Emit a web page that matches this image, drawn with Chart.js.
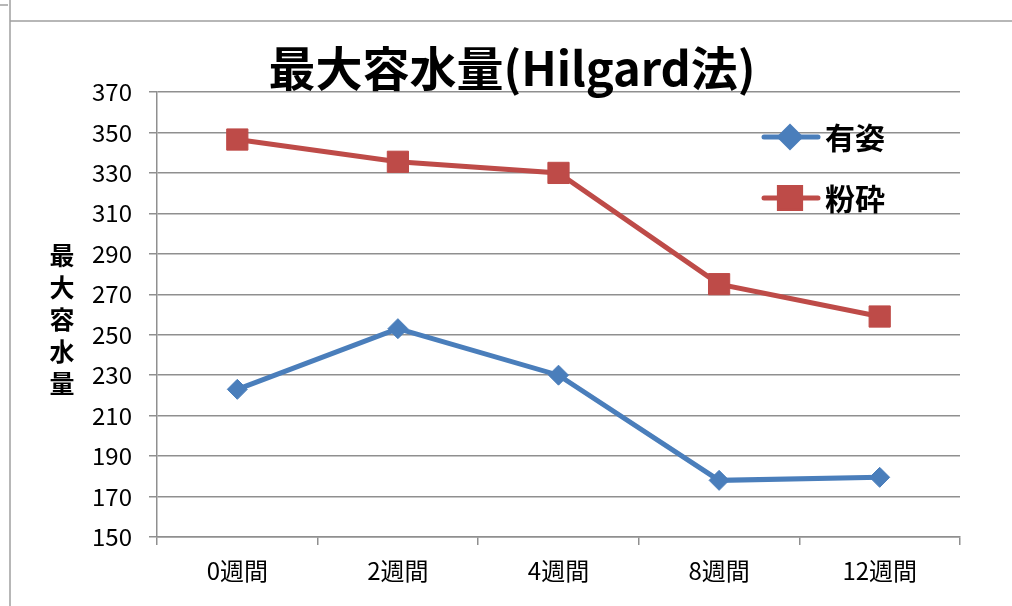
<!DOCTYPE html>
<html>
<head>
<meta charset="utf-8">
<script src="https://cdn.jsdelivr.net/npm/chart.js@4/dist/chart.umd.min.js"></script>
<style>
  html, body { margin: 0; padding: 0; background: #ffffff; }
  #wrap { width: 1012px; height: 606px; position: relative; }
</style>
</head>
<body>
<div id="wrap"><canvas id="c" width="1012" height="606"></canvas></div>
<script>
const chartTitle = '最大容水量(Hilgard法)';
const yAxisTitle = '最大容水量';
const categories = ['0週間', '2週間', '4週間', '8週間', '12週間'];
const seriesNames = ['有姿', '粉砕'];
const arisugata = [223, 253, 230, 178, 179.5];
const funsai = [346.5, 335.5, 330, 275, 259];
const yMin = 150, yMax = 370, yStep = 20;

const BLUE = '#4A7EBB';
const RED = '#BE4B48';
const GRID = '#8f8f8f';
const FONT = '"Noto Sans CJK JP", "Noto Sans", sans-serif';

const decorPlugin = {
  id: 'decor',
  beforeDraw(chart) {
    const ctx = chart.ctx;
    ctx.save();
    ctx.strokeStyle = '#a0a0a0';
    ctx.lineWidth = 1.5;
    ctx.beginPath();
    ctx.moveTo(10, 0); ctx.lineTo(10, 606);
    ctx.moveTo(10, 21); ctx.lineTo(1012, 21);
    ctx.moveTo(0, 5); ctx.lineTo(8, 5);
    ctx.stroke();
    ctx.restore();
  },
  afterDraw(chart) {
    const ctx = chart.ctx;
    ctx.save();
    // title
    ctx.fillStyle = '#000';
    ctx.font = 'bold 47px ' + FONT;
    ctx.textAlign = 'center';
    ctx.textBaseline = 'middle';
    ctx.fillText(chartTitle, 512, 68);
    // y axis title, stacked characters
    ctx.font = 'bold 25px ' + FONT;
    const chars = Array.from(yAxisTitle);
    chars.forEach((ch, i) => ctx.fillText(ch, 62, 255 + i * 32));
    // legend
    const items = chart.data.datasets.map((ds, i) => ({ ds }));
    const ys = [137, 198];
    items.forEach((it, i) => {
      const y = ys[i];
      ctx.strokeStyle = it.ds.borderColor;
      ctx.lineWidth = it.ds.borderWidth;
      ctx.lineCap = 'round';
      ctx.beginPath();
      ctx.moveTo(764, y); ctx.lineTo(818, y);
      ctx.stroke();
      Chart.helpers.drawPoint(ctx, {
        pointStyle: it.ds.pointStyle,
        radius: it.ds.pointRadius,
        borderWidth: 1,
        rotation: 0
      }, 790, y);
      ctx.fillStyle = it.ds.pointBackgroundColor;
      ctx.fill();
      ctx.fillStyle = '#000';
      ctx.font = 'bold 30px ' + FONT;
      ctx.textAlign = 'left';
      ctx.textBaseline = 'middle';
      ctx.fillText(it.ds.label, 825, y + 1);
    });
    ctx.restore();
  }
};

new Chart(document.getElementById('c'), {
  type: 'line',
  data: {
    labels: categories,
    datasets: [
      {
        label: seriesNames[0],
        data: arisugata,
        borderColor: BLUE,
        backgroundColor: BLUE,
        pointBackgroundColor: BLUE,
        pointBorderColor: BLUE,
        borderWidth: 5,
        pointStyle: 'rectRot',
        pointRadius: 10,
        pointBorderWidth: 1,
        tension: 0
      },
      {
        label: seriesNames[1],
        data: funsai,
        borderColor: RED,
        backgroundColor: RED,
        pointBackgroundColor: RED,
        pointBorderColor: RED,
        borderWidth: 5,
        pointStyle: 'rect',
        pointRadius: 15,
        pointBorderWidth: 1,
        tension: 0
      }
    ]
  },
  options: {
    responsive: false,
    devicePixelRatio: 1,
    animation: false,
    layout: { padding: { top: 92, right: 52, left: 0, bottom: 0 } },
    plugins: {
      legend: { display: false },
      title: { display: false },
      tooltip: { enabled: false }
    },
    scales: {
      x: {
        offset: true,
        grid: {
          offset: true,
          drawOnChartArea: false,
          drawTicks: true,
          tickLength: 8,
          color: GRID,
          lineWidth: 1.5
        },
        border: { color: GRID, width: 1.5 },
        ticks: {
          color: '#000',
          font: { family: FONT, size: 24 },
          padding: 11,
          maxRotation: 0
        },
        afterFit(scale) { scale.height = 69; }
      },
      y: {
        min: yMin,
        max: yMax,
        grid: {
          color: GRID,
          lineWidth: 1.5,
          drawTicks: true,
          tickLength: 8
        },
        border: { color: GRID, width: 1.5 },
        ticks: {
          stepSize: yStep,
          color: '#000',
          font: { family: FONT, size: 24 },
          padding: 17
        },
        afterFit(scale) { scale.width = 157; }
      }
    }
  },
  plugins: [decorPlugin]
});
</script>
</body>
</html>
